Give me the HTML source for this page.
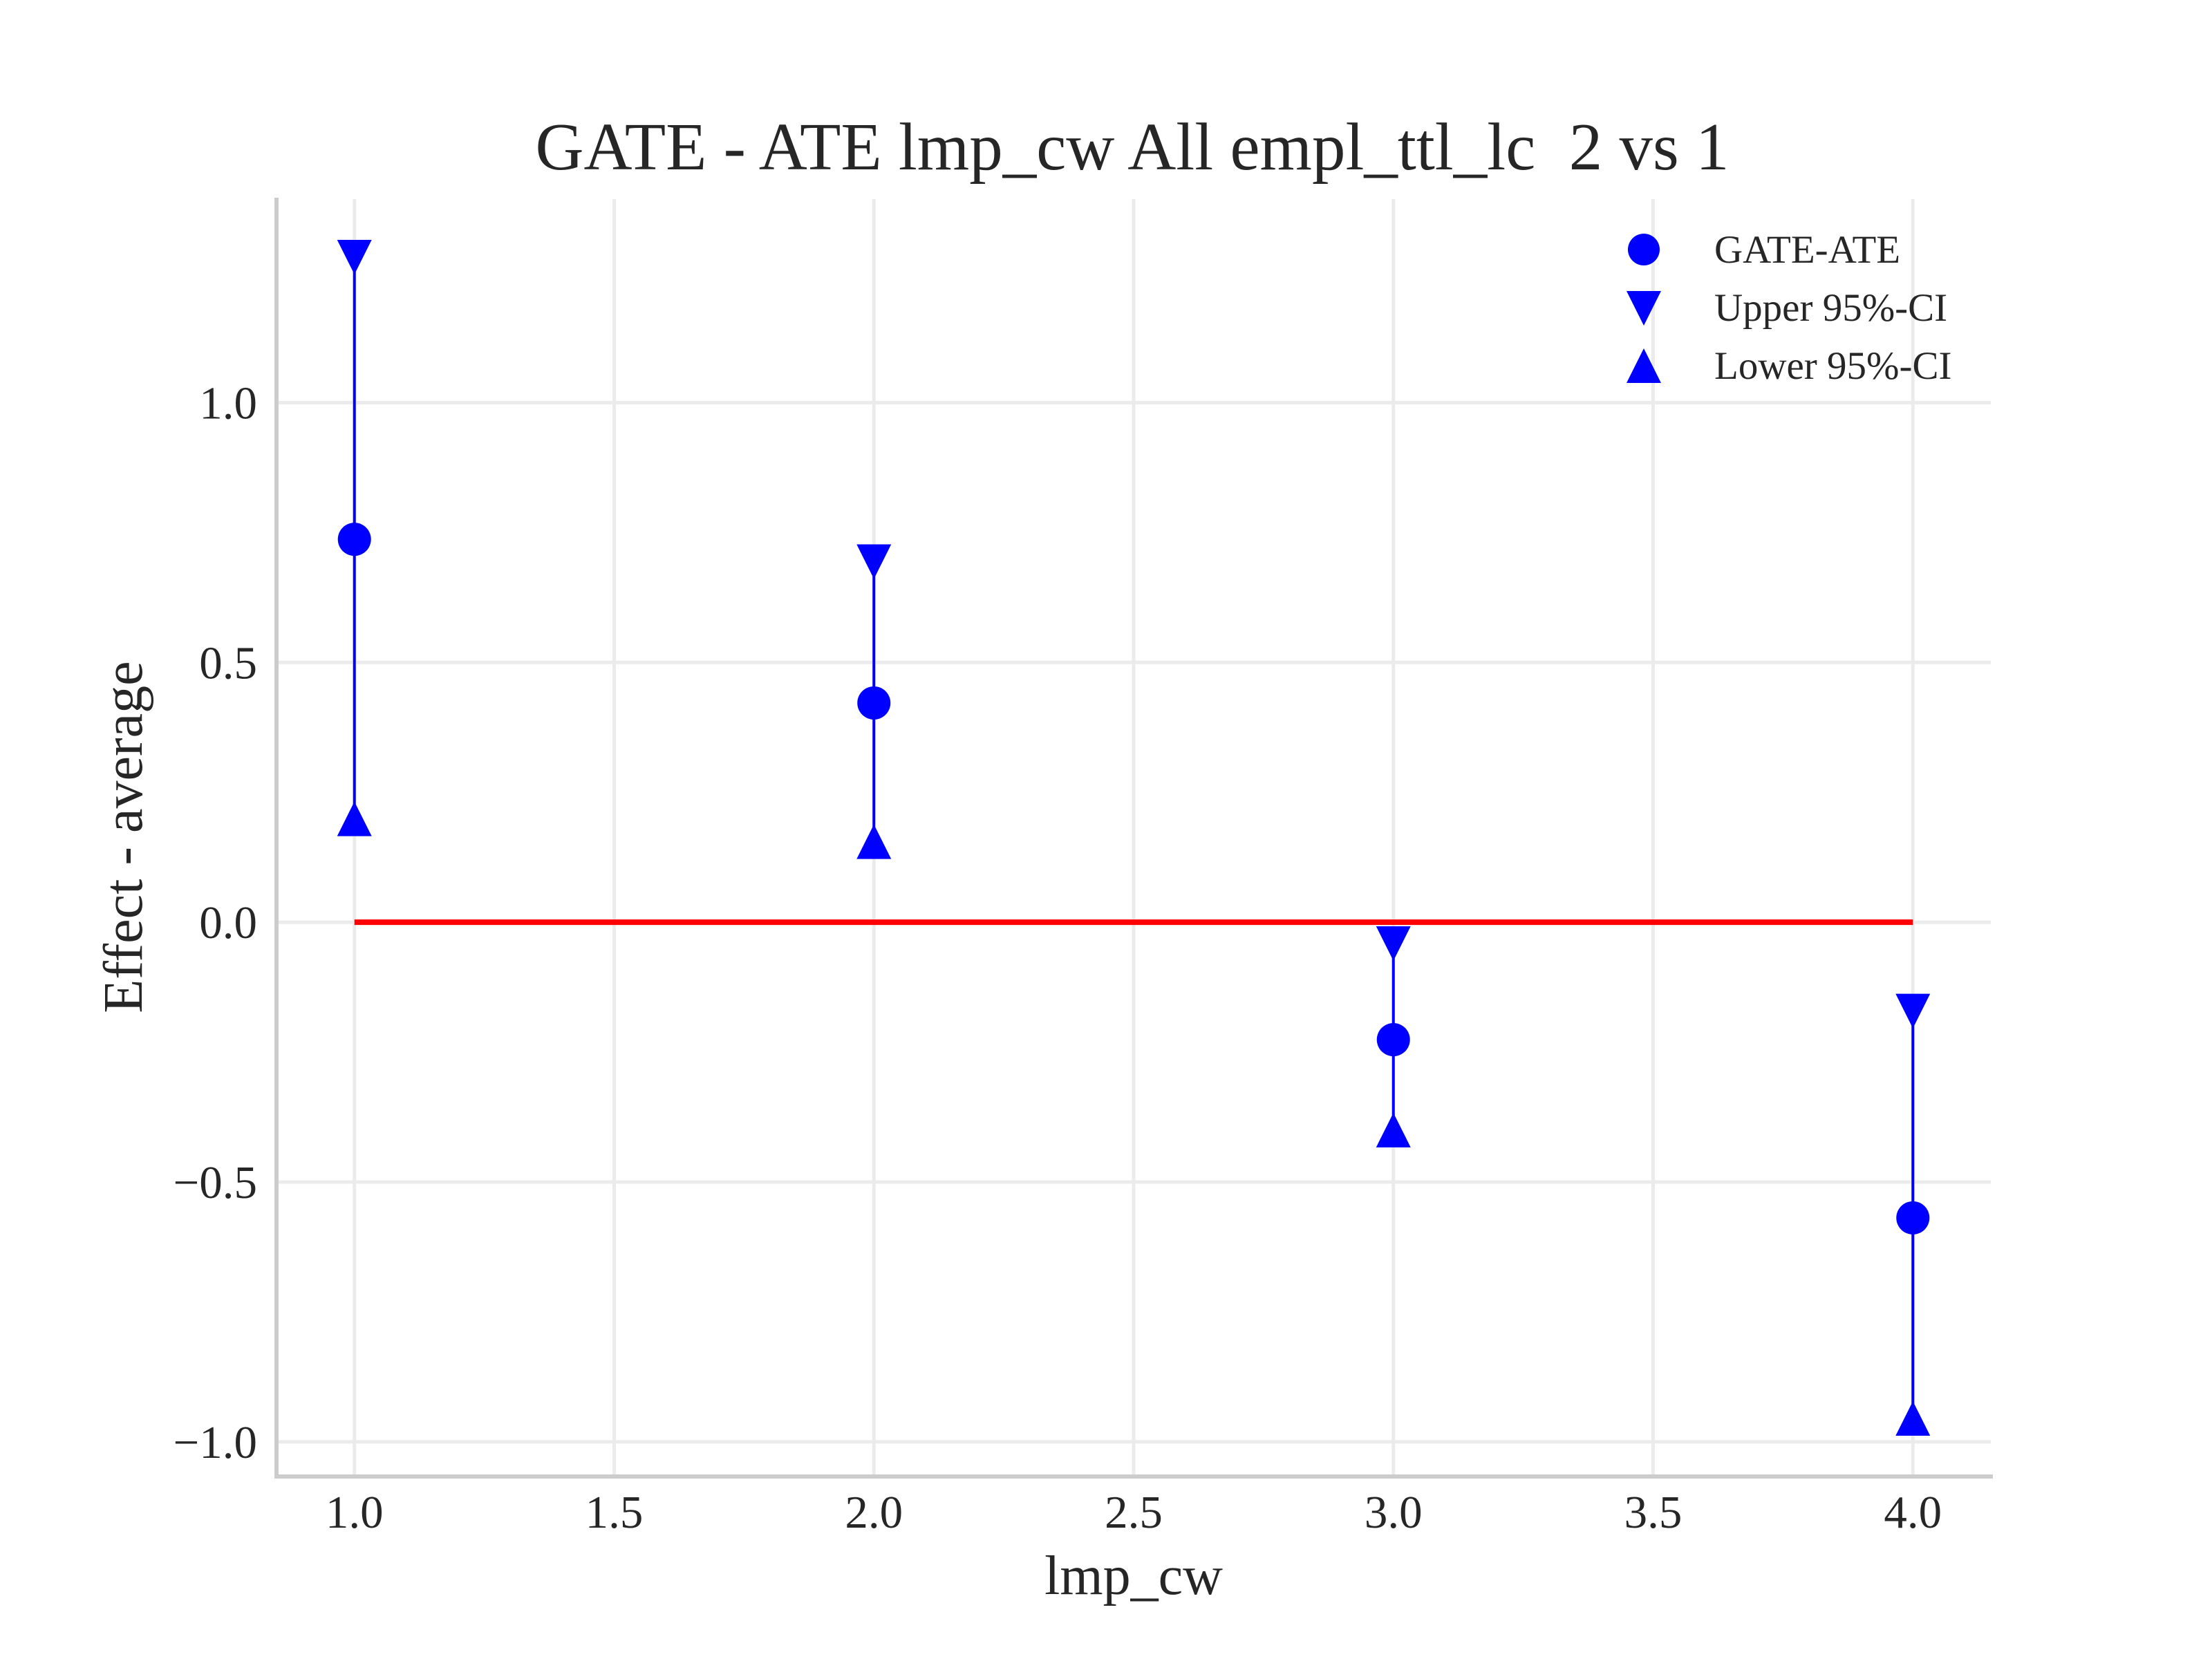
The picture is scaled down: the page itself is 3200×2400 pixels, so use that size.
<!DOCTYPE html>
<html><head><meta charset="utf-8"><style>
html,body{margin:0;padding:0;background:#fff;}
svg{display:block;font-family:"Liberation Serif",serif;}
</style></head><body>
<svg id="chart" width="3200" height="2400" viewBox="0 0 3200 2400" xmlns="http://www.w3.org/2000/svg">
<rect width="3200" height="2400" fill="#fff"/>
<g id="grid"></g>
<g id="axes"></g>
<g id="marks"></g>
<text x="1638" y="245" font-size="97" fill="#262626" text-anchor="middle">GATE - ATE lmp_cw All empl_ttl_lc &#160;2 vs 1</text>
<text x="1640" y="2306" font-size="80" fill="#262626" text-anchor="middle">lmp_cw</text>
<text x="0" y="0" font-size="80" fill="#262626" text-anchor="middle" transform="translate(205,1211) rotate(-90)">Effect - average</text>
<g id="legend">
  <g>
    <circle cx="2378" cy="361" r="23" fill="#0000ff"/>
    <text x="2480" y="380" font-size="57" fill="#262626">GATE-ATE</text>
  </g>
  <g>
    <polygon points="2353,421 2403,421 2378,471" fill="#0000ff"/>
    <text x="2480" y="464" font-size="57" fill="#262626">Upper 95%-CI</text>
  </g>
  <g>
    <polygon points="2353,554 2403,554 2378,504" fill="#0000ff"/>
    <text x="2480" y="548" font-size="57" fill="#262626">Lower 95%-CI</text>
  </g>
</g>
</svg>
<script>
const categories = [1, 2, 3, 4];
const gateValues = [0.737, 0.422, -0.226, -0.569];
const upperValues = [1.28, 0.694, -0.041, -0.171];
const lowerValues = [0.199, 0.155, -0.40, -0.955];
const xTicks = [1.0, 1.5, 2.0, 2.5, 3.0, 3.5, 4.0];
const xTickLabels = ["1.0", "1.5", "2.0", "2.5", "3.0", "3.5", "4.0"];
const yTicks = [-1.0, -0.5, 0.0, 0.5, 1.0];
const yTickLabels = ["\u22121.0", "\u22120.5", "0.0", "0.5", "1.0"];

const NS = "http://www.w3.org/2000/svg";
const L = 400, R = 2880, T = 288, B = 2136;
const xMin = 0.85, xMax = 4.15;
const allV = upperValues.concat(lowerValues, gateValues, [0]);
const vMax = Math.max(...allV), vMin = Math.min(...allV);
const pad = (vMax - vMin) * 0.05;
const yMin = vMin - pad, yMax = vMax + pad;
function xs(v){ return L + (v - xMin) / (xMax - xMin) * (R - L); }
function ys(v){ return B - (v - yMin) / (yMax - yMin) * (B - T); }
function mk(tag, attrs, parent){
  const el = document.createElementNS(NS, tag);
  for (const k in attrs) el.setAttribute(k, attrs[k]);
  parent.appendChild(el);
  return el;
}
const grid = document.getElementById('grid');
const axes = document.getElementById('axes');
const marks = document.getElementById('marks');

xTicks.forEach((t, i) => {
  const g = mk('line', {x1: xs(t), x2: xs(t), y1: T, y2: B, stroke: '#ebebeb', 'stroke-width': 5}, grid);
  
  
  const lb = mk('text', {x: xs(t), y: 2210, 'font-size': 67, fill: '#262626', 'text-anchor': 'middle'}, axes);
  lb.textContent = xTickLabels[i];
  
  
});
yTicks.forEach((t, i) => {
  const g = mk('line', {x1: L, x2: R, y1: ys(t), y2: ys(t), stroke: '#ebebeb', 'stroke-width': 5}, grid);
  
  
  const lb = mk('text', {x: 372, y: ys(t) + 23, 'font-size': 67, fill: '#262626', 'text-anchor': 'end'}, axes);
  lb.textContent = yTickLabels[i];
  
  
});
const ls = mk('line', {x1: L, x2: L, y1: T - 2, y2: B + 3, stroke: '#cccccc', 'stroke-width': 6}, axes);


const bs = mk('line', {x1: L - 3, x2: R + 3, y1: B, y2: B, stroke: '#cccccc', 'stroke-width': 6}, axes);



const zl = mk('line', {x1: xs(categories[0]), x2: xs(categories[categories.length - 1]), y1: ys(0), y2: ys(0), stroke: '#ff0000', 'stroke-width': 8}, marks);



const h = 25;
categories.forEach((c, i) => {
  const x = xs(c);
  const el = mk('line', {x1: x, x2: x, y1: ys(upperValues[i]), y2: ys(lowerValues[i]), stroke: '#0000ff', 'stroke-width': 4}, marks);
  
  
  const yu = ys(upperValues[i]);
  const up = mk('polygon', {points: `${x-h},${yu-h} ${x+h},${yu-h} ${x},${yu+h}`, fill: '#0000ff'}, marks);
  
  
  const yl = ys(lowerValues[i]);
  const lo = mk('polygon', {points: `${x-h},${yl+h} ${x+h},${yl+h} ${x},${yl-h}`, fill: '#0000ff'}, marks);
  
  
  const pt = mk('circle', {cx: x, cy: ys(gateValues[i]), r: 24, fill: '#0000ff'}, marks);
  
  
});
</script>
</body></html>
